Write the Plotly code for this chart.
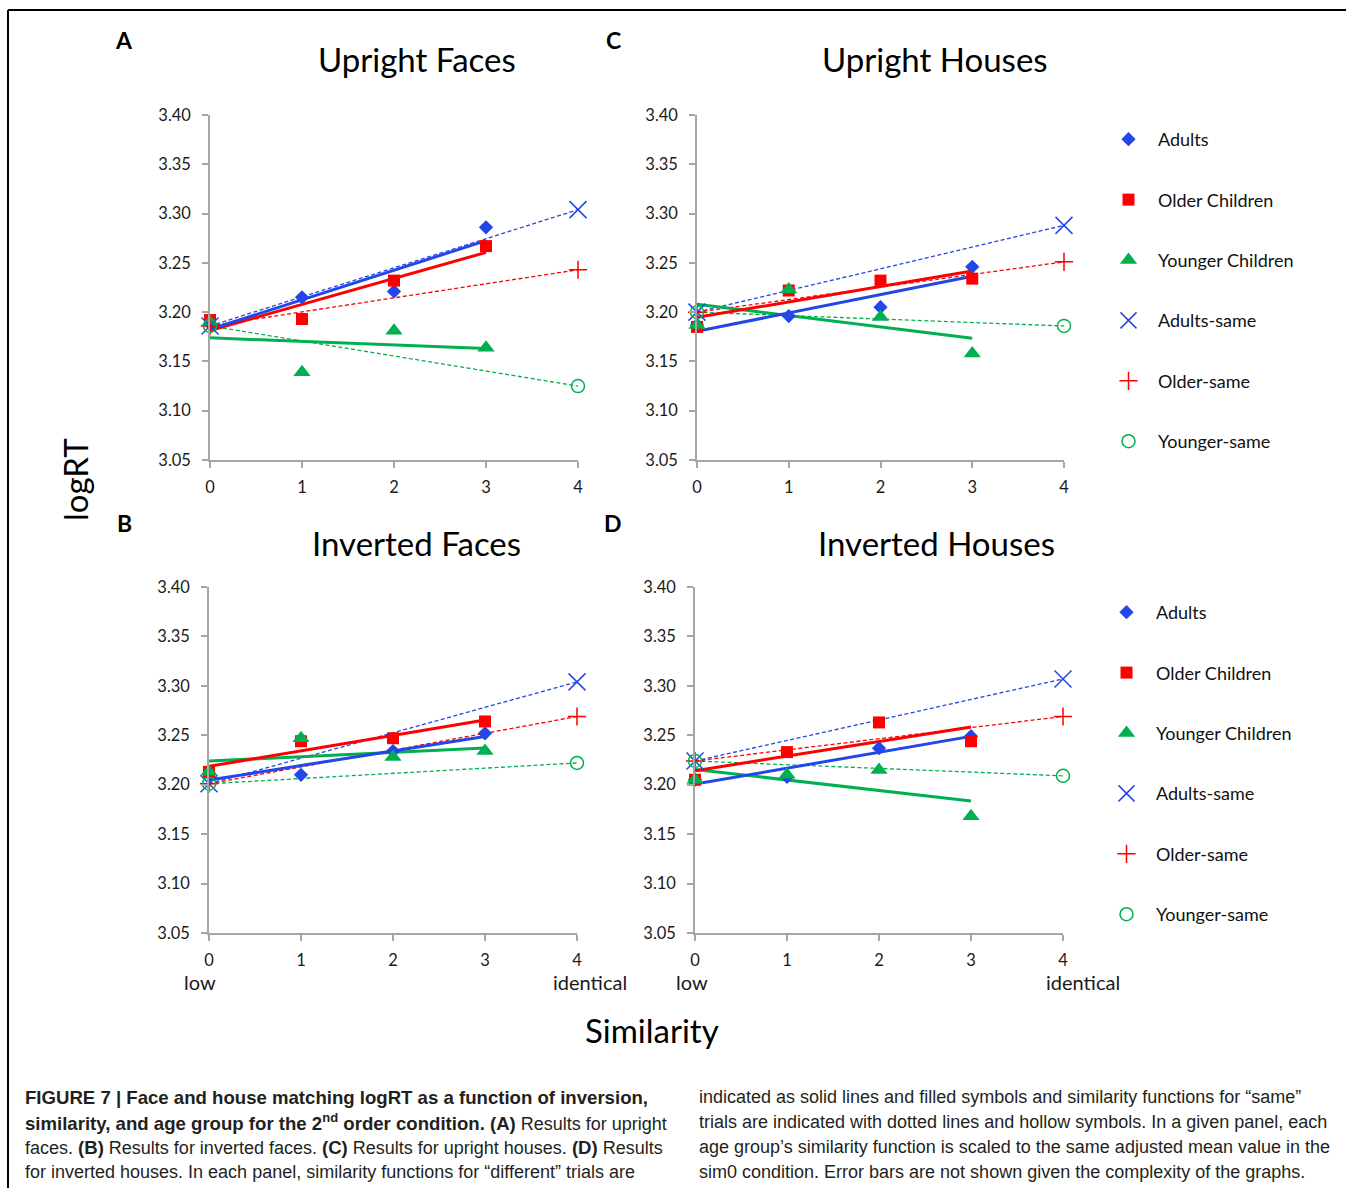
import numpy as np
import plotly.graph_objects as go

# ---------------- data ----------------
sim_diff = [0, 1, 2, 3]          # similarity levels for "different" trials
sim_same = [0, 4]                # sim0 and identical for "same" trials
x_ticks = [0, 1, 2, 3, 4]
y_ticks = [3.05, 3.10, 3.15, 3.20, 3.25, 3.30, 3.35, 3.40]

# Panel A - Upright Faces
A_adults = [3.188, 3.215, 3.221, 3.286]
A_older = [3.192, 3.193, 3.232, 3.267]
A_younger = [3.190, 3.139, 3.181, 3.164]
A_adults_same = [3.186, 3.304]
A_older_same = [3.186, 3.243]
A_younger_same = [3.186, 3.125]

# Panel B - Inverted Faces
B_adults = [3.211, 3.210, 3.234, 3.252]
B_older = [3.213, 3.244, 3.247, 3.264]
B_younger = [3.213, 3.247, 3.228, 3.234]
B_adults_same = [3.201, 3.304]
B_older_same = [3.201, 3.269]
B_younger_same = [3.201, 3.222]

# Panel C - Upright Houses
C_adults = [3.187, 3.196, 3.205, 3.246]
C_older = [3.185, 3.222, 3.232, 3.234]
C_younger = [3.187, 3.223, 3.195, 3.158]
C_adults_same = [3.200, 3.288]
C_older_same = [3.200, 3.251]
C_younger_same = [3.200, 3.186]

# Panel D - Inverted Houses
D_adults = [3.205, 3.208, 3.237, 3.249]
D_older = [3.205, 3.233, 3.263, 3.244]
D_younger = [3.205, 3.210, 3.215, 3.168]
D_adults_same = [3.224, 3.307]
D_older_same = [3.224, 3.269]
D_younger_same = [3.224, 3.209]

panel_titles = {"A": "Upright Faces", "B": "Inverted Faces",
                "C": "Upright Houses", "D": "Inverted Houses"}
legend_names = ["Adults", "Older Children", "Younger Children",
                "Adults-same", "Older-same", "Younger-same"]

# ---------------- style ----------------
W, H = 1346, 1188
BLUE = "#2346E6"
RED = "#FF0000"
GREEN = "#00B050"
AXIS = "#A6A6A6"
CHART_FONT = "Lato, 'Open Sans', sans-serif"
CAP_FONT = "'Liberation Sans', Arial, sans-serif"

def px_x(v):
    return v / W

def px_y(v):
    return 1 - v / H

# panel: (xaxis idx, x-domain px, y-domain px)
panels = {
    "A": (1, (210, 578), (115, 460)),
    "C": (2, (697, 1064), (115, 460)),
    "B": (3, (209, 577), (587, 933)),
    "D": (4, (695, 1063), (587, 933)),
}
data = {
    "A": (A_adults, A_older, A_younger, A_adults_same, A_older_same, A_younger_same),
    "B": (B_adults, B_older, B_younger, B_adults_same, B_older_same, B_younger_same),
    "C": (C_adults, C_older, C_younger, C_adults_same, C_older_same, C_younger_same),
    "D": (D_adults, D_older, D_younger, D_adults_same, D_older_same, D_younger_same),
}
legend_of = {"C": "legend", "D": "legend2"}

fig = go.Figure()

diff_style = [
    (BLUE, dict(symbol="diamond", size=11, color=BLUE)),
    (RED, dict(symbol="square", size=12, color=RED)),
    (GREEN, dict(symbol="triangle-up", size=15, color=GREEN)),
]
same_style = [
    (BLUE, dict(symbol="x-thin-open", size=17, color=BLUE, line=dict(color=BLUE, width=1.5))),
    (RED, dict(symbol="cross-thin-open", size=13, color=RED, line=dict(color=RED, width=1.5))),
    (GREEN, dict(symbol="circle-open", size=13, color=GREEN, line=dict(color=GREEN, width=1.5))),
]

for key, (idx, xd, yd) in panels.items():
    xa = "x" if idx == 1 else f"x{idx}"
    ya = "y" if idx == 1 else f"y{idx}"
    series = data[key]
    leg = legend_of.get(key)
    # dashed "same" lines
    for i in range(3):
        col, mk = same_style[i]
        fig.add_trace(go.Scatter(x=sim_same, y=series[3 + i], mode="lines",
                                 line=dict(color=col, width=1.3, dash="4px,2.5px"),
                                 xaxis=xa, yaxis=ya, showlegend=False,
                                 hoverinfo="skip", cliponaxis=False))
    # solid linear trend lines for "different" trials
    for i in [2, 1, 0]:
        col, mk = diff_style[i]
        slope, icpt = np.polyfit(sim_diff, series[i], 1)
        xs = np.array([sim_diff[0], sim_diff[-1]])
        fig.add_trace(go.Scatter(x=xs, y=icpt + slope * xs, mode="lines",
                                 line=dict(color=col, width=3),
                                 xaxis=xa, yaxis=ya, showlegend=False,
                                 hoverinfo="skip", cliponaxis=False))
    # markers
    for i in range(3):
        col, mk = diff_style[i]
        if leg:
            kw = dict(showlegend=True, legend=leg, legendgroup=f"{key}{i}")
        else:
            kw = dict(showlegend=False)
        fig.add_trace(go.Scatter(x=sim_diff, y=series[i], mode="markers",
                                 marker=mk, name=legend_names[i],
                                 xaxis=xa, yaxis=ya, cliponaxis=False, **kw))
    for i in range(3):
        col, mk = same_style[i]
        if leg:
            kw = dict(showlegend=True, legend=leg, legendgroup=f"{key}{3 + i}")
        else:
            kw = dict(showlegend=False)
        fig.add_trace(go.Scatter(x=sim_same, y=series[3 + i], mode="markers",
                                 marker=mk, name=legend_names[3 + i],
                                 xaxis=xa, yaxis=ya, cliponaxis=False, **kw))

axis_common = dict(showline=True, linecolor=AXIS, linewidth=1.5, ticks="outside",
                   ticklen=6, tickwidth=1.5, tickcolor=AXIS, showgrid=False,
                   zeroline=False, automargin=False,
                   tickfont=dict(family=CHART_FONT, size=16.5, color="#1a1a1a"))

layout = dict(width=W, height=H, autosize=False,
              margin=dict(l=0, r=0, t=0, b=0, pad=0, autoexpand=False),
              paper_bgcolor="white", plot_bgcolor="white", showlegend=True)

for key, (idx, xd, yd) in panels.items():
    xn = "xaxis" if idx == 1 else f"xaxis{idx}"
    yn = "yaxis" if idx == 1 else f"yaxis{idx}"
    yref = "y" if idx == 1 else f"y{idx}"
    xref = "x" if idx == 1 else f"x{idx}"
    layout[xn] = dict(domain=[px_x(xd[0]), px_x(xd[1])], range=[0, 4],
                      tickvals=x_ticks, anchor=yref, ticklabelstandoff=5,
                      **axis_common)
    layout[yn] = dict(domain=[px_y(yd[1]), px_y(yd[0])], range=[3.05, 3.40],
                      tickvals=y_ticks, tickformat=".2f", anchor=xref,
                      ticklabelstandoff=8, **axis_common)

leg_common = dict(font=dict(family=CHART_FONT, size=18, color="#111"),
                  bgcolor="rgba(0,0,0,0)", tracegroupgap=34, itemwidth=49,
                  xanchor="left", yanchor="top", itemclick=False,
                  itemdoubleclick=False)
layout["legend"] = dict(x=px_x(1099), y=px_y(121), **leg_common)
layout["legend2"] = dict(x=px_x(1097), y=px_y(594), **leg_common)

fig.update_layout(**layout)

ann = []
# panel letters
for letter, (lx, ly) in {"A": (124, 40), "C": (613, 40), "B": (124, 523), "D": (613, 523)}.items():
    ann.append(dict(text=f"<b>{letter}</b>", x=px_x(lx), y=px_y(ly), xref="paper", yref="paper",
                    showarrow=False, xanchor="center", yanchor="middle",
                    font=dict(family=CHART_FONT, size=23, color="black")))
# panel titles
for key, (tx, ty) in {"A": (417, 59), "C": (935, 59), "B": (416, 543), "D": (936, 543)}.items():
    ann.append(dict(text=panel_titles[key], x=px_x(tx), y=px_y(ty), xref="paper", yref="paper",
                    showarrow=False, xanchor="center", yanchor="middle",
                    font=dict(family=CHART_FONT, size=33, color="black")))
# axis titles
ann.append(dict(text="logRT", x=px_x(75), y=px_y(480), xref="paper", yref="paper",
                showarrow=False, textangle=-90, xanchor="center", yanchor="middle",
                font=dict(family=CHART_FONT, size=33, color="black")))
ann.append(dict(text="Similarity", x=px_x(652), y=px_y(1030), xref="paper", yref="paper",
                showarrow=False, xanchor="center", yanchor="middle",
                font=dict(family=CHART_FONT, size=33, color="black")))
# low / identical
for txt, lx in [("low", 200), ("identical", 590), ("low", 692), ("identical", 1083)]:
    ann.append(dict(text=txt, x=px_x(lx), y=px_y(982), xref="paper", yref="paper",
                    showarrow=False, xanchor="center", yanchor="middle",
                    font=dict(family=CHART_FONT, size=20, color="#1a1a1a")))

# caption
BS = '<b><span style="font-size:18.6px">'
BE = '</span></b>'
cap_left = [
    f"{BS}FIGURE 7 | Face and house matching logRT as a function of inversion,{BE}",
    f"{BS}similarity, and age group for the 2<sup>nd</sup> order condition. (A){BE} Results for upright",
    f"faces. {BS}(B){BE} Results for inverted faces. {BS}(C){BE} Results for upright houses. {BS}(D){BE} Results",
    "for inverted houses. In each panel, similarity functions for \u201cdifferent\u201d trials are",
]
cap_right = [
    "indicated as solid lines and filled symbols and similarity functions for \u201csame\u201d",
    "trials are indicated with dotted lines and hollow symbols. In a given panel, each",
    "age group\u2019s similarity function is scaled to the same adjusted mean value in the",
    "sim0 condition. Error bars are not shown given the complexity of the graphs.",
]
for i, (l, r) in enumerate(zip(cap_left, cap_right)):
    yy = 1097 + 25 * i
    ann.append(dict(text=l, x=px_x(23), y=px_y(yy), xref="paper", yref="paper",
                    showarrow=False, xanchor="left", yanchor="middle",
                    font=dict(family=CAP_FONT, size=18, color="#231F20")))
    ann.append(dict(text=r, x=px_x(697), y=px_y(yy), xref="paper", yref="paper",
                    showarrow=False, xanchor="left", yanchor="middle",
                    font=dict(family=CAP_FONT, size=18, color="#231F20")))

fig.update_layout(annotations=ann)

# frame lines
fig.add_shape(type="line", xref="paper", yref="paper", x0=px_x(8), x1=1, y0=px_y(10), y1=px_y(10),
              line=dict(color="black", width=2))
fig.add_shape(type="line", xref="paper", yref="paper", x0=px_x(8), x1=px_x(8), y0=px_y(10), y1=0,
              line=dict(color="black", width=2))

fig.write_html("out.html", config={"displayModeBar": False},
               post_script="document.body.style.margin='0';document.body.style.overflow='hidden';")
